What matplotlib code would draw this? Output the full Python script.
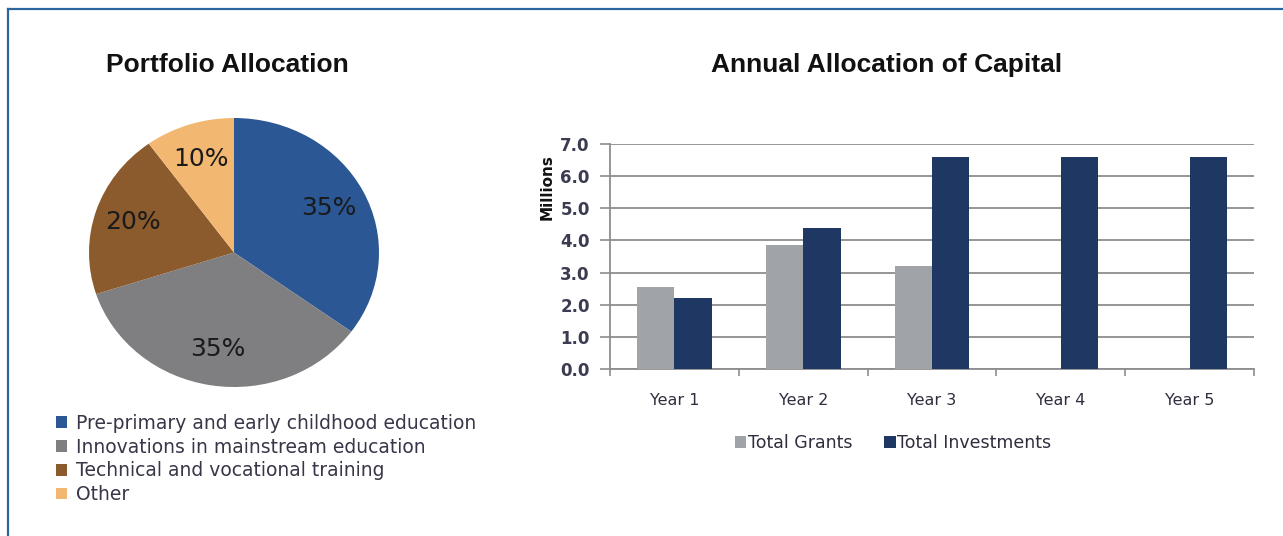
import matplotlib
matplotlib.use("Agg")
import matplotlib.pyplot as plt
import numpy as np
from matplotlib.lines import Line2D
from matplotlib.patches import Patch

# ---- data ----
pie_labels = ["Pre-primary and early childhood education",
              "Innovations in mainstream education",
              "Technical and vocational training",
              "Other"]
pie_values = [35, 35, 20, 10]
pie_colors = ["#2B5794", "#7F7F81", "#8B5B2D", "#F2B872"]

years = ["Year 1", "Year 2", "Year 3", "Year 4", "Year 5"]
grants = [2.55, 3.85, 3.2, 0, 0]
investments = [2.2, 4.4, 6.6, 6.6, 6.6]
bar_colors = ["#A0A3A7", "#1F3763"]
yticks = [0.0, 1.0, 2.0, 3.0, 4.0, 5.0, 6.0, 7.0]

W, H = 1283, 536
fig = plt.figure(figsize=(W / 100, H / 100), dpi=100)
fig.patch.set_facecolor("white")

def fx(px):
    return px / W

def fy(py):
    return 1 - py / H

# border lines
border_c = "#2B679C"
fig.add_artist(Line2D([fx(7.5), 1.0], [fy(8.5), fy(8.5)], color=border_c, lw=1.6, transform=fig.transFigure))
fig.add_artist(Line2D([fx(7.5), fx(7.5)], [fy(8.5), 0.0], color=border_c, lw=1.6, transform=fig.transFigure))

body_font = ["DejaVu Sans"]
title_font = ["Liberation Sans", "DejaVu Sans"]

# titles
fig.text(fx(227), fy(65), "Portfolio Allocation", ha="center", va="center",
         fontsize=19, fontweight="bold", family=title_font, color="#111111")
fig.text(fx(887), fy(65), "Annual Allocation of Capital", ha="center", va="center",
         fontsize=19, fontweight="bold", family=title_font, color="#111111")

# ---- pie ----
axp = fig.add_axes([fx(89), fy(387), fx(290), 269 / H])
wedges, texts, autotexts = axp.pie(
    pie_values, colors=pie_colors, startangle=90, counterclock=False,
    autopct=lambda p: f"{p:.0f}%", pctdistance=0.73,
    wedgeprops=dict(linewidth=0),
    textprops=dict(fontsize=18, family=body_font, color="#1a1a1a"))
axp.set_aspect("auto")
axp.set_xlim(-1, 1)
axp.set_ylim(-1, 1)

leg_handles = [Patch(facecolor=c, edgecolor="none") for c in pie_colors]
fig.legend(leg_handles, pie_labels, loc="upper left",
           bbox_to_anchor=(fx(56), fy(414)), frameon=False,
           prop=dict(family=body_font, size=13.5),
           handlelength=0.6, handleheight=0.6, handletextpad=0.45,
           labelspacing=0.25, borderaxespad=0, borderpad=0,
           labelcolor="#3a3548")

# ---- bars ----
axb = fig.add_axes([fx(610), fy(369), fx(1254 - 610), (369 - 144) / H])
x = np.arange(len(years))
bw = 0.29
axb.bar(x - bw / 2, grants, width=bw, color=bar_colors[0], linewidth=0, zorder=3, label="Total Grants")
axb.bar(x + bw / 2, investments, width=bw, color=bar_colors[1], linewidth=0, zorder=3, label="Total Investments")
axb.set_xlim(-0.5, len(years) - 0.5)
axb.set_ylim(0, 7)
axb.set_yticks(yticks)
axb.set_yticklabels([f"{v:.1f}" for v in yticks], family=body_font, fontsize=12,
                    fontweight="bold", color="#3b3b52")
axb.yaxis.grid(True, color="#8E8E8E", lw=1.3, zorder=0)
axb.tick_params(axis="y", length=7, width=1.2, color="#8E8E8E", pad=7.5)
axb.set_xticks(x)
axb.set_xticklabels(years, family=body_font, fontsize=11.5, color="#2e2e3e")
axb.tick_params(axis="x", which="major", length=0, pad=17)
axb.set_xticks(np.arange(-0.5, len(years) + 0.5, 1), minor=True)
axb.tick_params(axis="x", which="minor", length=5, width=1.2, color="#8E8E8E")
for s in ["top", "right"]:
    axb.spines[s].set_visible(False)
for s in ["left", "bottom"]:
    axb.spines[s].set_color("#8E8E8E")
    axb.spines[s].set_linewidth(1.3)
axb.set_axisbelow(True)

fig.text(fx(547), fy(187), "Millions", rotation=90, ha="center", va="center",
         fontsize=11, fontweight="bold", family=body_font, color="#111111")

hb, lb = axb.get_legend_handles_labels()
fig.legend(hb, lb, loc="center", bbox_to_anchor=(fx(893), fy(443)), ncol=2,
           frameon=False, prop=dict(family=body_font, size=12.5),
           handlelength=0.65, handleheight=0.65, handletextpad=0.1,
           columnspacing=1.85, borderpad=0, labelcolor="#2e2e3e")

fig.savefig("out.png", dpi=100, facecolor="white")
